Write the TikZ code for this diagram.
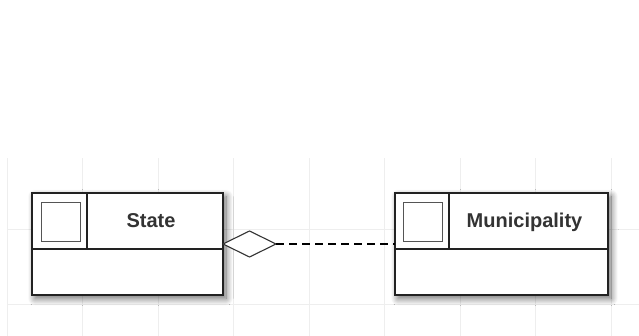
\documentclass[tikz,border=0pt]{standalone}
\usepackage{fontspec}
\setmainfont{Liberation Sans}
\usetikzlibrary{shapes, arrows, positioning, shadows.blur}

\definecolor{gridgray}{HTML}{EEEEEE}
\definecolor{linegray}{HTML}{222222}
\definecolor{icongray}{HTML}{555555}
\definecolor{textgray}{HTML}{333333}

\begin{document}
\begin{tikzpicture}[x=1pt,y=-1pt,
    classbox/.style={rectangle, draw=linegray, line width=1.3pt, fill=white,
      inner sep=0pt, outer sep=0pt, minimum height=102pt,
      blur shadow={shadow xshift=3pt, shadow yshift=-3.5pt, shadow blur radius=7pt,
        shadow blur steps=12, shadow opacity=60}},
    divider/.style={draw=linegray, line width=1.1pt},
    iconbox/.style={rectangle, draw=icongray, line width=0.9pt, inner sep=0pt, minimum size=39pt},
    classname/.style={font=\fontsize{20}{22}\selectfont\bfseries, text=textgray, inner sep=0pt, anchor=base},
    aggregation/.style={diamond, draw=textgray, line width=1.1pt, fill=white, inner sep=0pt, outer sep=0pt,
      aspect=2, minimum width=53pt, minimum height=26pt},
    link/.style={draw=black, line width=2.3pt, dash pattern=on 7.5pt off 5.5pt},
    gridline/.style={draw=gridgray, line width=0.8pt}]
  \useasboundingbox (0,0) rectangle (639,336);

  % background grid
  \begin{scope}
    \clip (7,158) rectangle (639,336);
    \foreach \gx in {0,...,8}
      \draw[gridline] (7+75.5*\gx,158) -- (7+75.5*\gx,336);
    \foreach \gy in {0,1,2}
      \draw[gridline] (7,153.5+75.5*\gy) -- (639,153.5+75.5*\gy);
  \end{scope}

  % classes
  \node[classbox, minimum width=191pt]            (state) at (127.5,244) {};
  \node[classbox, minimum width=213pt, right=172pt of state] (muni)  {};

  \draw[divider] ([yshift=-56pt]state.north west) -- ([yshift=-56pt]state.north east);
  \draw[divider] ([xshift=55pt]state.north west) -- ([xshift=55pt,yshift=-56pt]state.north west);
  \node[iconbox, anchor=north west] (stateicon) at ([xshift=9pt,yshift=-9pt]state.north west) {};
  \node[classname] (statename) at ([xshift=119pt,yshift=-35pt]state.north west) {State};

  \draw[divider] ([yshift=-56pt]muni.north west) -- ([yshift=-56pt]muni.north east);
  \draw[divider] ([xshift=54pt]muni.north west) -- ([xshift=54pt,yshift=-56pt]muni.north west);
  \node[iconbox, anchor=north west] (muniicon) at ([xshift=8pt,yshift=-9pt]muni.north west) {};
  \node[classname] (muniname) at ([xshift=129.5pt,yshift=-35pt]muni.north west) {Municipality};

  % aggregation
  \node[aggregation, anchor=west] (agg) at (state.east) {};
  \draw[link] (agg.east) -- (muni.west);
\end{tikzpicture}
\end{document}
